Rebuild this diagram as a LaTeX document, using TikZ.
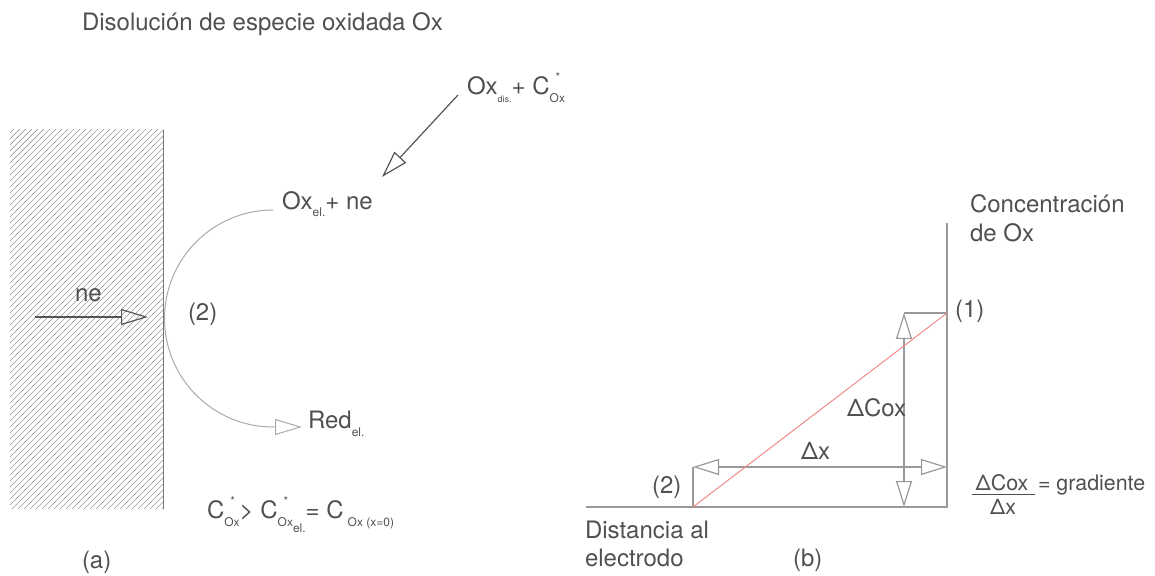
\documentclass[tikz,border=0pt]{standalone}
\usepackage{fontspec}
\setmainfont{TeX Gyre Heros}
\usetikzlibrary{arrows.meta}
\definecolor{txt}{HTML}{505050}
\definecolor{darkln}{HTML}{555555}
\definecolor{wallln}{HTML}{777777}
\definecolor{lightln}{HTML}{AAAAAA}
\definecolor{axisln}{HTML}{999999}
\definecolor{hatchln}{HTML}{999999}
\definecolor{redln}{HTML}{F08A8A}
\newcommand\scs[1]{\raisebox{-4pt}{\fontsize{6}{6}\selectfont #1}}
\newcommand\cstar[1]{\rlap{\hspace{3pt}\raisebox{6.5pt}{\fontsize{6}{6}\selectfont *}}\scs{#1}}
\begin{document}
\begin{tikzpicture}[x=0.5pt,y=-0.5pt,
  lbl/.style={anchor=base west, inner sep=0pt, outer sep=0pt, text=txt, font=\fontsize{12}{14}\selectfont},
  flbl/.style={anchor=base, inner sep=0pt, outer sep=0pt, text=txt, font=\fontsize{10.7}{13}\selectfont},
  glbl/.style={anchor=base west, inner sep=0pt, outer sep=0pt, text=txt, font=\fontsize{10.7}{13}\selectfont},
  head/.style={-{Triangle[open,length=13.5pt,width=8pt]}},
  dblhead/.style={{Triangle[open,length=13pt,width=8pt]}-{Triangle[open,length=13pt,width=8pt]}},
  hatch/.style={draw=hatchln, line width=0.35pt},
  wall/.style={draw=wallln, line width=0.45pt},
  darkarrow/.style={draw=darkln, line width=0.6pt, head},
  arcline/.style={draw=lightln, line width=0.5pt, head},
  axis/.style={draw=axisln, line width=0.6pt},
  redline/.style={draw=redln, line width=0.5pt}]
\useasboundingbox (0,0) rectangle (1155,576);

% ---- electrode (hatched) ----
\begin{scope}
  \clip (10,130) rectangle (163,509);
  \foreach \i in {-372,-366,...,168} \draw[hatch] (\i,509) -- ++(400,-400);
\end{scope}
\coordinate (wT) at (163,130);
\coordinate (wB) at (163,509);
\draw[wall] (wT) -- (wB);

% ---- texts left ----
\node[lbl] (title) at (82,31) {Disolución de especie oxidada Ox};
\node[lbl] (oxdis) at (467,95) {Ox\raisebox{-4pt}{\fontsize{4.5}{5}\selectfont dis.}+ C\cstar{Ox}};
\node[lbl] (oxel) at (282,210) {Ox\raisebox{-3.5pt}{\fontsize{6}{6}\selectfont el.}+ ne};
\node[lbl] (ne) at (75,302) {ne};
\node[lbl] (two) at (188,321) {(2)};
\node[lbl] (red) at (308,429) {Red\raisebox{-4pt}{\fontsize{6}{6}\selectfont el.}};
\node[lbl] (ineq) at (207,518) {C\cstar{Ox}> C\cstar{Ox}\raisebox{-7pt}{\fontsize{6}{6}\selectfont el.}= C\,\scs{Ox (x=0)}};
\node[lbl] (a) at (82,568) {(a)};

% ---- arrows left ----
\coordinate (neS) at (35,317);
\coordinate (neE) at (148,317);
\draw[darkarrow] (neS) -- (neE);
\coordinate (inS) at (458,95);
\coordinate (inE) at (382,177);
\draw[darkarrow] (inS) -- (inE);
\coordinate (arcS) at (273,210);
\coordinate (arcE) at (302,427);
\draw[arcline] (arcS) arc[start angle=270, end angle=90, radius=108.5] -- (arcE);

% ---- graph ----
\coordinate (ytop) at (947,223);
\coordinate (O) at (947,507);
\coordinate (xl) at (586,507);
\coordinate (p2) at (693,507);
\coordinate (p1) at (947,313);
\coordinate (t2) at (693,467);
\coordinate (dxr) at (947,467);
\coordinate (dcT) at (904,313);
\coordinate (dcB) at (904,507);
\draw[axis] (ytop) -- (O) -- (xl);
\draw[axis] (p2) -- (t2);
\draw[axis] (dcT) -- (p1);
\draw[axis,dblhead] (t2) -- (dxr);
\draw[axis,dblhead] (dcT) -- (dcB);
\draw[redline] (p2) -- (p1);

% ---- texts right ----
\node[lbl] (conc1) at (970,213) {Concentración};
\node[lbl] (conc2) at (970,242) {de Ox};
\node[lbl] (one) at (955,318) {(1)};
\node[lbl] (dcox) at (847,417) {ΔCox};
\node[lbl] (dx) at (801,459) {Δx};
\node[lbl] (twob) at (652,494) {(2)};
\node[lbl] (dist1) at (585,538) {Distancia al};
\node[lbl] (dist2) at (585,566) {electrodo};
\node[lbl] (b) at (793,566) {(b)};
\node[flbl] (num) at (1002,490) {ΔCox};
\node[flbl] (den) at (1003,514) {Δx};
\coordinate (barL) at (972,494);
\coordinate (barR) at (1035,494);
\draw[draw=txt, line width=0.5pt] (barL) -- (barR);
\node[glbl] (grad) at (1038,490) {= gradiente};
\end{tikzpicture}
\end{document}
